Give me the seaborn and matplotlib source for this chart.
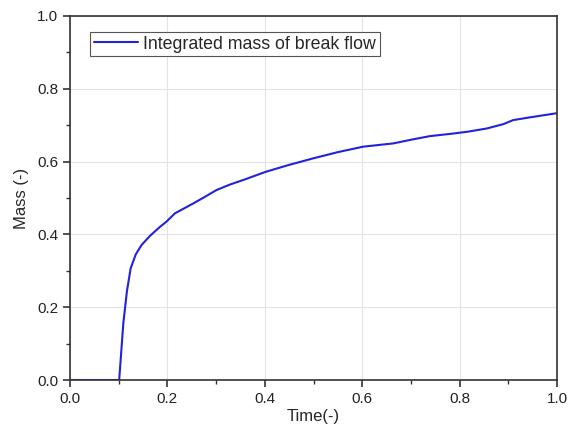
import matplotlib
matplotlib.use("Agg")
import matplotlib.pyplot as plt
import seaborn as sns
import pandas as pd
from matplotlib.ticker import MultipleLocator

time_vals = [0.0, 0.101, 0.1095, 0.117, 0.1246, 0.135, 0.147, 0.165, 0.185, 0.198, 0.2156,
             0.235, 0.253, 0.278, 0.301, 0.3285, 0.359, 0.402, 0.45, 0.4996, 0.55, 0.602,
             0.664, 0.70, 0.739, 0.78, 0.816, 0.856, 0.890, 0.910, 0.9446, 1.0]
mass_vals = [0.0, 0.0, 0.156, 0.245, 0.307, 0.345, 0.371, 0.397, 0.421, 0.435, 0.458,
             0.472, 0.485, 0.504, 0.522, 0.537, 0.551, 0.572, 0.591, 0.609, 0.626, 0.641,
             0.650, 0.660, 0.670, 0.676, 0.682, 0.691, 0.703, 0.714, 0.7216, 0.733]
series_name = "Integrated mass of break flow"
x_label = "Time(-)"
y_label = "Mass (-)"

sns.set_style("ticks")
plt.rcParams["font.family"] = ["Liberation Sans", "DejaVu Sans"]

df = pd.DataFrame({"Time": time_vals, "Mass": mass_vals, "series": series_name})

fig = plt.figure(figsize=(5.69, 4.30), dpi=100)
ax = fig.add_axes([70/569, 1-380/430, 487/569, 364/430])

sns.lineplot(data=df, x="Time", y="Mass", hue="series", palette=["#2222dd"],
             sort=False, estimator=None, linewidth=1.5, ax=ax)

ax.set_xlim(0, 1.0)
ax.set_ylim(0, 1.0)
ax.xaxis.set_major_locator(MultipleLocator(0.2))
ax.xaxis.set_minor_locator(MultipleLocator(0.1))
ax.yaxis.set_major_locator(MultipleLocator(0.2))
ax.yaxis.set_minor_locator(MultipleLocator(0.1))
ax.grid(True, which="major", color="#e3e3e3", linewidth=0.8)
ax.set_axisbelow(True)
for s in ax.spines.values():
    s.set_color("#333333")
    s.set_linewidth(1.2)
ax.tick_params(which="major", direction="out", length=5, width=1.2, color="#333333",
               labelsize=11, labelcolor="#222222")
ax.tick_params(which="minor", direction="out", length=3, width=1.0, color="#333333")
ax.set_xlabel(x_label, fontsize=12, labelpad=2)
ax.set_ylabel(y_label, fontsize=12, labelpad=6)

leg = ax.legend(loc="upper left", bbox_to_anchor=(20/487, 1-16/364), fontsize=12.8,
                frameon=True, fancybox=False, borderpad=0.2, handlelength=2.5,
                handletextpad=0.3, borderaxespad=0)
leg.get_frame().set_edgecolor("#555555")
leg.get_frame().set_linewidth(0.8)
leg.get_frame().set_alpha(1)

fig.savefig("out.png", dpi=100)
